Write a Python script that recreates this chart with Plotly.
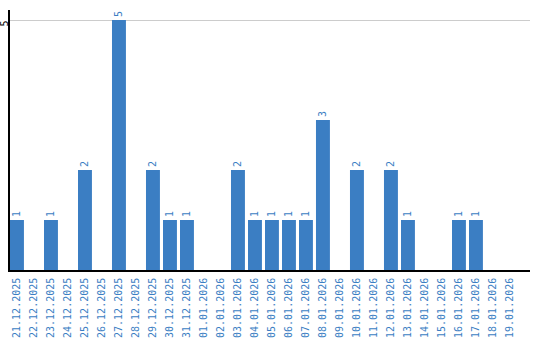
import plotly.graph_objects as go

dates = ["21.12.2025","22.12.2025","23.12.2025","24.12.2025","25.12.2025","26.12.2025",
         "27.12.2025","28.12.2025","29.12.2025","30.12.2025","31.12.2025","01.01.2026",
         "02.01.2026","03.01.2026","04.01.2026","05.01.2026","06.01.2026","07.01.2026",
         "08.01.2026","09.01.2026","10.01.2026","11.01.2026","12.01.2026","13.01.2026",
         "14.01.2026","15.01.2026","16.01.2026","17.01.2026","18.01.2026","19.01.2026"]
counts = [1,0,1,0,2,0,5,0,2,1,1,0,0,2,1,1,1,1,3,0,2,0,2,1,0,0,1,1,0,0]
labels = [str(v) if v else "" for v in counts]
y_ticks = [5]

BLUE = "#3b7ec3"
FONT = "DejaVu Sans Mono"

fig = go.Figure(go.Bar(
    x=dates, y=counts, text=labels, textposition="outside", textangle=-90,
    textfont=dict(family=FONT, size=10, color=BLUE),
    marker=dict(color=BLUE, line=dict(width=0)),
    cliponaxis=False,
))
fig.update_layout(
    width=540, height=340,
    margin=dict(l=10, r=10, t=10, b=70, autoexpand=False),
    paper_bgcolor="white", plot_bgcolor="white",
    bargap=0.18, showlegend=False,
    xaxis=dict(type="category", range=[-0.41, 30.18], tickangle=-90,
               tickfont=dict(family=FONT, size=10, color=BLUE),
               showline=True, linecolor="black", linewidth=1.5,
               showgrid=False, ticks="", automargin=False, ticklabelstandoff=2),
    yaxis=dict(range=[0, 5.2], tickvals=y_ticks, tickangle=-90,
               tickfont=dict(family=FONT, size=10, color="black"),
               showline=True, linecolor="black", linewidth=1.5,
               showgrid=True, gridcolor="#cccccc", gridwidth=1,
               zeroline=False, ticks="", ticklabelstandoff=-4, ticklabelshift=5,
               automargin=False),
)
fig.write_html("out.html")
